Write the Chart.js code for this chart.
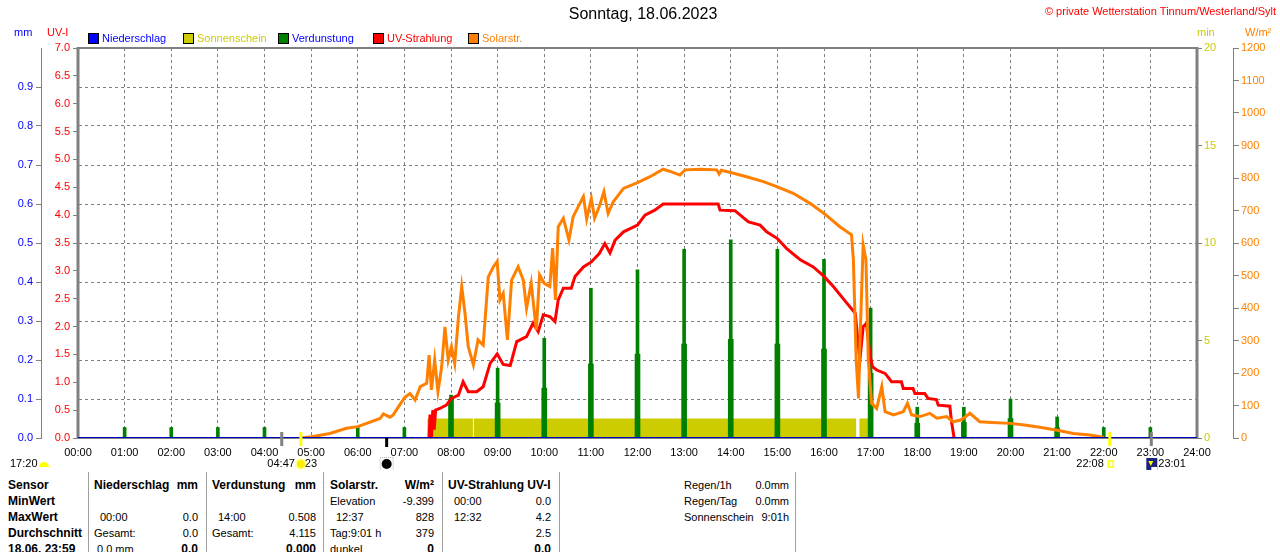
<!DOCTYPE html>
<html lang="de">
<head>
<meta charset="utf-8">
<title>Sonntag, 18.06.2023</title>
<script src="https://cdn.jsdelivr.net/npm/chart.js@4.4.0/dist/chart.umd.min.js"></script>
<style>
    html, body { margin: 0; padding: 0; background: #fff; width: 1280px; height: 552px; overflow: hidden; }
    body { font-family: "Liberation Sans", Arial, sans-serif; }
    #wrap { position: relative; width: 1280px; height: 470px; }
    #tbl { position: relative; width: 1280px; height: 82px; font-size: 11px; color: #000; }
    #tbl div { position: absolute; white-space: nowrap; line-height: 16px; }
    #tbl .b { font-weight: bold; font-size: 12px; }
    #tbl .sep { width: 1px; top: 2px; height: 80px; background: #a0a0a0; }
</style>
</head>
<body>
<div id="wrap"><canvas id="chart"></canvas></div>
<div id="tbl">
    <div class="sep" style="left:88px"></div>
    <div class="sep" style="left:206px"></div>
    <div class="sep" style="left:323px"></div>
    <div class="sep" style="left:442px"></div>
    <div class="sep" style="left:559px"></div>
    <div class="sep" style="left:795px"></div>

    <div class="b" style="left:8px;top:7px">Sensor</div>
    <div class="b" style="left:8px;top:23px">MinWert</div>
    <div class="b" style="left:8px;top:39px">MaxWert</div>
    <div class="b" style="left:8px;top:55px">Durchschnitt</div>
    <div class="b" style="left:8px;top:71px">18.06. 23:59</div>

    <div class="b" style="left:94px;top:7px">Niederschlag</div>
    <div class="b" style="right:1082px;top:7px">mm</div>
    <div style="left:100px;top:39px">00:00</div>
    <div style="right:1082px;top:39px">0.0</div>
    <div style="left:94px;top:55px">Gesamt:</div>
    <div style="right:1082px;top:55px">0.0</div>
    <div style="left:97px;top:71px">0.0 mm</div>
    <div class="b" style="right:1082px;top:71px">0.0</div>

    <div class="b" style="left:212px;top:7px">Verdunstung</div>
    <div class="b" style="right:964px;top:7px">mm</div>
    <div style="left:218px;top:39px">14:00</div>
    <div style="right:964px;top:39px">0.508</div>
    <div style="left:212px;top:55px">Gesamt:</div>
    <div style="right:964px;top:55px">4.115</div>
    <div class="b" style="right:964px;top:71px">0.000</div>

    <div class="b" style="left:330px;top:7px">Solarstr.</div>
    <div class="b" style="right:846px;top:7px">W/m²</div>
    <div style="left:330px;top:23px">Elevation</div>
    <div style="right:846px;top:23px">-9.399</div>
    <div style="left:336px;top:39px">12:37</div>
    <div style="right:846px;top:39px">828</div>
    <div style="left:330px;top:55px">Tag:9:01 h</div>
    <div style="right:846px;top:55px">379</div>
    <div style="left:330px;top:71px">dunkel</div>
    <div class="b" style="right:846px;top:71px">0</div>

    <div class="b" style="left:448px;top:7px">UV-Strahlung UV-I</div>
    <div style="left:454px;top:23px">00:00</div>
    <div style="right:729px;top:23px">0.0</div>
    <div style="left:454px;top:39px">12:32</div>
    <div style="right:729px;top:39px">4.2</div>
    <div style="right:729px;top:55px">2.5</div>
    <div class="b" style="right:729px;top:71px">0.0</div>

    <div style="left:684px;top:7px">Regen/1h</div>
    <div style="right:491px;top:7px">0.0mm</div>
    <div style="left:684px;top:23px">Regen/Tag</div>
    <div style="right:491px;top:23px">0.0mm</div>
    <div style="left:684px;top:39px">Sonnenschein</div>
    <div style="right:491px;top:39px">9:01h</div>
</div>
<script>
// ===== DATA (time in decimal hours) =====
const solarTimes = [4.80, 5.01, 5.40, 5.76, 6.00, 6.19, 6.48, 6.55, 6.69, 6.76, 6.90, 7.01, 7.12, 7.23, 7.34,
    7.48, 7.53, 7.58, 7.65, 7.72, 7.80, 7.87, 7.94, 8.01, 8.08, 8.16, 8.23, 8.30, 8.37, 8.48, 8.58, 8.69,
    8.80, 8.91, 8.99, 9.05, 9.12, 9.21, 9.30, 9.44, 9.55, 9.62, 9.72, 9.83, 9.90, 10.00, 10.12, 10.18,
    10.24, 10.30, 10.41, 10.53, 10.62, 10.73, 10.84, 10.91, 11.01, 11.08, 11.18, 11.28, 11.37, 11.48,
    11.70, 12.00, 12.27, 12.55, 12.73, 12.91, 13.02, 13.34, 13.70, 13.75, 13.80, 14.00, 14.34, 14.70,
    15.00, 15.34, 15.70, 16.00, 16.34, 16.59, 16.63, 16.69, 16.74, 16.77, 16.84, 16.90, 16.95, 17.02,
    17.13, 17.24, 17.31, 17.49, 17.70, 17.79, 17.88, 18.06, 18.27, 18.42, 18.63, 18.77, 18.95, 19.13,
    19.34, 19.60, 20.00, 20.30, 20.63, 21.06, 21.35, 21.70, 21.96, 22.00];
const solarValues = [0, 4, 14, 30, 35, 45, 60, 74, 64, 71, 102, 125, 137, 117, 158,
    168, 255, 148, 240, 143, 219, 342, 240, 281, 230, 373, 466, 384, 281, 225, 302, 286,
    496, 527, 543, 425, 445, 302, 486, 527, 486, 399, 476, 332, 502, 476, 466, 584,
    425, 650, 676, 609, 681, 712, 743, 674, 737, 676, 712, 758, 691, 727,
    768, 786, 804, 827, 819, 809, 825, 827, 825, 812, 824, 817, 804, 789,
    773, 753, 722, 691, 650, 625, 548, 240, 122, 291, 594, 548, 240, 107,
    91, 158, 81, 71, 81, 107, 71, 66, 76, 61, 66, 50, 56, 76,
    50, 48, 45, 40, 33, 22, 14, 9, 3, 0];

const uvTimes = [7.53, 7.55, 7.58, 7.61, 7.64, 7.67, 7.76, 7.90, 8.01, 8.16, 8.26, 8.37, 8.55, 8.69, 8.84,
    8.99, 9.12, 9.27, 9.41, 9.62, 9.76, 9.87, 9.98, 10.12, 10.23, 10.30, 10.41, 10.58, 10.66, 10.84,
    11.01, 11.18, 11.30, 11.41, 11.52, 11.70, 12.00, 12.16, 12.37, 12.55, 13.73, 13.77, 14.09, 14.38,
    14.63, 14.77, 15.00, 15.20, 15.49, 15.77, 16.00, 16.20, 16.49, 16.67, 16.74, 16.77, 16.84, 16.91,
    16.98, 17.04, 17.13, 17.31, 17.45, 17.66, 17.70, 17.91, 17.95, 18.16, 18.23, 18.41, 18.45, 18.70,
    18.73, 18.79];
const uvValues = [0, 0.42, 0, 0.50, 0.15, 0.50, 0.53, 0.59, 0.71, 0.77, 1.01, 0.83, 0.83, 0.92, 1.34,
    1.51, 1.32, 1.30, 1.73, 1.82, 2.06, 1.91, 2.21, 2.18, 2.09, 2.48, 2.69, 2.69, 2.90, 3.07,
    3.16, 3.31, 3.49, 3.32, 3.55, 3.70, 3.82, 4.00, 4.09, 4.20, 4.20, 4.09, 4.08, 3.88,
    3.82, 3.70, 3.58, 3.40, 3.20, 3.07, 2.90, 2.72, 2.42, 2.24, 1.64, 1.40, 2.00, 2.06,
    1.52, 1.28, 1.22, 1.16, 1.01, 1.01, 0.89, 0.89, 0.80, 0.80, 0.71, 0.69, 0.59, 0.57,
    0.32, 0];

const sunTimes = [7.49, 8.47, 8.49, 16.69, 16.76, 16.97];
const sunValues = [1, 0, 1, 0, 1, 0];

const evapHours = [1, 2, 3, 4, 6, 7, 8, 9, 10, 11, 12, 13, 14, 15, 16, 17, 18, 19, 20, 21, 22, 23];
const evapPeak = [0.027, 0.027, 0.027, 0.027, 0.027, 0.027, 0.110, 0.179, 0.256, 0.384, 0.431, 0.484,
    0.508, 0.484, 0.458, 0.333, 0.079, 0.079, 0.100, 0.054, 0.027, 0.027];
const evapBase = [0, 0, 0, 0, 0, 0, 0.100, 0.090, 0.128, 0.190, 0.215, 0.241,
    0.253, 0.241, 0.228, 0.166, 0.038, 0.040, 0.050, 0.026, 0, 0];

const rainTimes = [0, 24];
const rainValues = [0, 0];

// dawn, sunrise, moonrise, sunset, moonset
const astroTimes = [4.37, 4.78, 6.62, 22.13, 23.02];
const astroLabels = ['', '04:47', '', '22:08', '23:01'];

const pts = (xs, ys) => xs.map((x, i) => ({ x: x, y: ys[i] }));

const FONT = '"Liberation Sans", Arial, sans-serif';
const GRAY = '#808080';

Chart.defaults.font.family = FONT;
Chart.defaults.font.size = 11;
Chart.defaults.color = '#000';

// ===== PLUGINS =====
const framePlugin = {
    id: 'frame',
    beforeDatasetsDraw(chart) {
        const { ctx, chartArea: a } = chart;
        ctx.save();
        ctx.strokeStyle = GRAY;
        ctx.lineWidth = 2;
        ctx.beginPath();
        ctx.moveTo(a.left, a.top);
        ctx.lineTo(a.right, a.top);
        ctx.moveTo(a.left, a.bottom);
        ctx.lineTo(a.right, a.bottom);
        ctx.stroke();
        ctx.lineWidth = 3;
        ctx.beginPath();
        ctx.moveTo(a.left, a.top - 1);
        ctx.lineTo(a.left, a.bottom);
        ctx.moveTo(a.right, a.top - 1);
        ctx.lineTo(a.right, a.bottom);
        ctx.stroke();
        ctx.restore();
    }
};

const textPlugin = {
    id: 'texts',
    afterDraw(chart) {
        const { ctx } = chart;
        ctx.save();
        ctx.textBaseline = 'middle';

        ctx.font = '16px ' + FONT;
        ctx.fillStyle = '#000';
        ctx.textAlign = 'center';
        ctx.fillText('Sonntag, 18.06.2023', 643, 15);

        ctx.font = '11px ' + FONT;
        ctx.textAlign = 'right';
        ctx.fillStyle = '#ff0000';
        ctx.fillText('© private Wetterstation Tinnum/Westerland/Sylt', 1276, 12);

        // axis units
        ctx.textAlign = 'left';
        const units = [['mm', 14, '#0000ff'], ['UV-I', 47, '#ff0000'], ['min', 1197, '#cccc00'], ['W/m²', 1245, '#ff8000']];
        units.forEach(u => {
            ctx.fillStyle = u[2];
            ctx.fillText(u[0], u[1], 33);
        });

        // legend
        let lx = 88;
        chart.data.datasets.forEach(ds => {
            if (ds.hideInLegend) return;
            ctx.fillStyle = ds.legendBox;
            ctx.fillRect(lx, 33, 10, 10);
            ctx.strokeStyle = '#000';
            ctx.lineWidth = 1;
            ctx.strokeRect(lx + 0.5, 33.5, 10, 10);
            ctx.fillStyle = ds.legendText;
            ctx.fillText(ds.label, lx + 14, 38.5);
            lx += 95;
        });

        // sun / moon markers on the time axis
        const xs = chart.scales.x;
        const bottom = chart.chartArea.bottom;
        const markColors = [GRAY, '#ffff00', '#000', '#ffff00', GRAY];
        astroTimes.forEach((t, i) => {
            const px = xs.getPixelForValue(t);
            ctx.fillStyle = markColors[i];
            ctx.fillRect(px - 1.5, i === 2 ? bottom : bottom - 6, 3, i === 2 ? 9 : 14);
        });

        const y = 464;
        ctx.fillStyle = '#000';
        ctx.fillText('17:20', 10, y);
        ctx.fillStyle = '#ffff00';
        ctx.beginPath();
        ctx.arc(44, y + 3, 5, Math.PI, 0);
        ctx.fill();

        // sunrise
        let px = xs.getPixelForValue(astroTimes[1]);
        ctx.fillStyle = '#000';
        ctx.textAlign = 'right';
        ctx.fillText(astroLabels[1], px - 6, y);
        ctx.textAlign = 'left';
        ctx.fillText('23', px + 4, y);
        ctx.fillStyle = 'rgba(255,255,0,0.35)';
        ctx.beginPath();
        ctx.arc(px, y, 6, 0, Math.PI * 2);
        ctx.fill();
        ctx.fillStyle = '#ffee00';
        ctx.beginPath();
        ctx.arc(px, y, 4, 0, Math.PI * 2);
        ctx.fill();

        // moonrise
        px = xs.getPixelForValue(astroTimes[2]);
        ctx.strokeStyle = '#b0b0b0';
        ctx.setLineDash([1, 1]);
        ctx.strokeRect(px - 6.5, y - 6.5, 13, 13);
        ctx.setLineDash([]);
        ctx.fillStyle = '#000';
        ctx.beginPath();
        ctx.arc(px, y, 5, 0, Math.PI * 2);
        ctx.fill();

        // sunset
        px = xs.getPixelForValue(astroTimes[3]);
        ctx.fillStyle = '#000';
        ctx.textAlign = 'right';
        ctx.fillText(astroLabels[3], px - 6, y);
        ctx.strokeStyle = '#ffff00';
        ctx.lineWidth = 1.5;
        ctx.strokeRect(px - 1.5, y - 3, 5, 6);

        // moonset
        px = xs.getPixelForValue(astroTimes[4]);
        ctx.fillStyle = '#1a237e';
        ctx.fillRect(px - 5, y - 6, 11, 12);
        ctx.fillStyle = '#ffff00';
        ctx.beginPath();
        ctx.moveTo(px - 3, y - 3);
        ctx.lineTo(px + 2, y - 3);
        ctx.lineTo(px - 0.5, y + 2);
        ctx.closePath();
        ctx.fill();
        ctx.fillStyle = '#fff';
        ctx.fillRect(px, y + 3, 6, 3);
        ctx.fillStyle = '#000';
        ctx.textAlign = 'left';
        ctx.fillText(astroLabels[4], px + 7, y);

        ctx.restore();
    }
};

// ===== CHART =====
const tickGrid = (len) => ({
    display: true,
    drawOnChartArea: false,
    drawTicks: true,
    tickLength: len,
    tickColor: GRAY,
    color: GRAY
});

new Chart(document.getElementById('chart'), {
    type: 'line',
    data: {
        datasets: [
            {
                label: 'Niederschlag',
                data: pts(rainTimes, rainValues),
                yAxisID: 'mm',
                borderColor: '#0000c0',
                borderWidth: 2,
                pointRadius: 0,
                order: 0,
                legendBox: '#0000ff',
                legendText: '#0000ff'
            },
            {
                label: 'Sonnenschein',
                data: pts(sunTimes, sunValues),
                yAxisID: 'min',
                stepped: true,
                fill: 'origin',
                borderWidth: 0,
                borderColor: 'rgba(0,0,0,0)',
                backgroundColor: '#cccc00',
                pointRadius: 0,
                order: 4,
                legendBox: '#cccc00',
                legendText: '#cccc00'
            },
            {
                label: 'Verdunstung',
                type: 'bar',
                data: pts(evapHours, evapPeak),
                yAxisID: 'mm',
                backgroundColor: '#008000',
                barThickness: 3,
                grouped: false,
                order: 3,
                legendBox: '#008000',
                legendText: '#0000ff'
            },
            {
                label: 'Verdunstung',
                type: 'bar',
                data: pts(evapHours, evapBase),
                yAxisID: 'mm',
                backgroundColor: '#008000',
                barThickness: 5,
                grouped: false,
                order: 3,
                hideInLegend: true
            },
            {
                label: 'UV-Strahlung',
                data: pts(uvTimes, uvValues),
                yAxisID: 'uv',
                borderColor: '#ff0000',
                borderWidth: 3,
                pointRadius: 0,
                order: 2,
                legendBox: '#ff0000',
                legendText: '#ff0000'
            },
            {
                label: 'Solarstr.',
                data: pts(solarTimes, solarValues),
                yAxisID: 'wm',
                borderColor: '#ff8000',
                borderWidth: 3,
                pointRadius: 0,
                order: 1,
                legendBox: '#ff8000',
                legendText: '#ff8000'
            }
        ]
    },
    options: {
        responsive: true,
        maintainAspectRatio: false,
        animation: false,
        events: [],
        layout: { padding: { top: 48, left: 0, right: 0, bottom: 0 } },
        plugins: {
            legend: { display: false },
            title: { display: false },
            tooltip: { enabled: false }
        },
        scales: {
            x: {
                type: 'linear',
                min: 0,
                max: 24,
                offset: false,
                afterFit: s => { s.height = 32; },
                ticks: {
                    stepSize: 1,
                    autoSkip: false,
                    maxRotation: 0,
                    padding: 8,
                    color: '#000',
                    callback: v => String(v).padStart(2, '0') + ':00'
                },
                grid: { offset: false, color: GRAY, drawTicks: false },
                border: { display: false, dash: [3, 3] }
            },
            uv: {
                type: 'linear',
                position: 'left',
                weight: 0,
                min: 0,
                max: 7,
                afterFit: s => { s.width = 37; },
                ticks: { stepSize: 0.5, padding: 3, color: '#ff0000', callback: v => v.toFixed(1) },
                grid: tickGrid(5),
                border: { display: false }
            },
            mm: {
                type: 'linear',
                position: 'left',
                weight: 1,
                min: 0,
                max: 1,
                afterFit: s => { s.width = 41; },
                ticks: { stepSize: 0.1, padding: 3, color: '#0000ff', callback: v => v > 0.95 ? '' : v.toFixed(1) },
                grid: {
                    display: true,
                    drawOnChartArea: true,
                    drawTicks: true,
                    tickLength: 5,
                    color: GRAY,
                    tickColor: c => (c.tick && c.tick.value > 0.95) ? 'rgba(0,0,0,0)' : GRAY
                },
                border: { display: true, color: GRAY, width: 1, dash: [3, 3] }
            },
            min: {
                type: 'linear',
                position: 'right',
                weight: 0,
                min: 0,
                max: 20,
                afterFit: s => { s.width = 36; },
                ticks: { stepSize: 5, padding: 2, color: '#cccc00', callback: v => String(v) },
                grid: tickGrid(5),
                border: { display: false }
            },
            wm: {
                type: 'linear',
                position: 'right',
                weight: 1,
                min: 0,
                max: 1200,
                afterFit: s => { s.width = 47; },
                ticks: { stepSize: 100, padding: 2, color: '#ff8000', callback: v => String(v) },
                grid: tickGrid(6),
                border: { display: true, color: GRAY, width: 1 }
            }
        }
    },
    plugins: [framePlugin, textPlugin]
});
</script>
</body>
</html>
